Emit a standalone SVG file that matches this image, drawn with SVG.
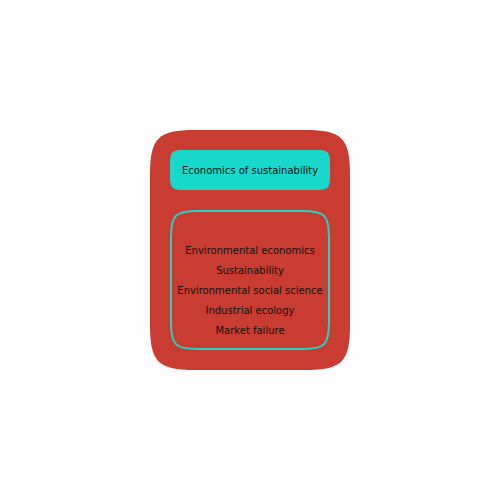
<svg xmlns="http://www.w3.org/2000/svg" width="500" height="500" viewBox="0 0 500 500">
<style>
text{font-family:"DejaVu Sans",sans-serif;font-size:10px;fill:#111;text-anchor:middle}
</style>
<rect width="500" height="500" fill="#fdfdfd"/>
<g id="outer"><path d="M195 130 H305 C342 130 350 138 350 175 V325 C350 362 342 370 305 370 H195 C158 370 150 362 150 325 V175 C150 138 158 130 195 130 Z" fill="#c83c32"/></g>
<g id="title"><path d="M184 150 H316 C328 150 330 152 330 164 V176 C330 188 328 190 316 190 H184 C172 190 170 188 170 176 V164 C170 152 172 150 184 150 Z" fill="#18d8cc"/><text x="250" y="174">Economics of sustainability</text></g>
<g id="list"><path d="M198 211 H302 C325 211 329 215 329 238 V322 C329 345 325 349 302 349 H198 C175 349 171 345 171 322 V238 C171 215 175 211 198 211 Z" fill="none" stroke="#28d0c8" stroke-width="2"/>
<text x="250" y="254">Environmental economics</text>
<text x="250" y="274">Sustainability</text>
<text x="250" y="294">Environmental social science</text>
<text x="250" y="314">Industrial ecology</text>
<text x="250" y="334">Market failure</text></g>
<g id="connectors"/>
</svg>
